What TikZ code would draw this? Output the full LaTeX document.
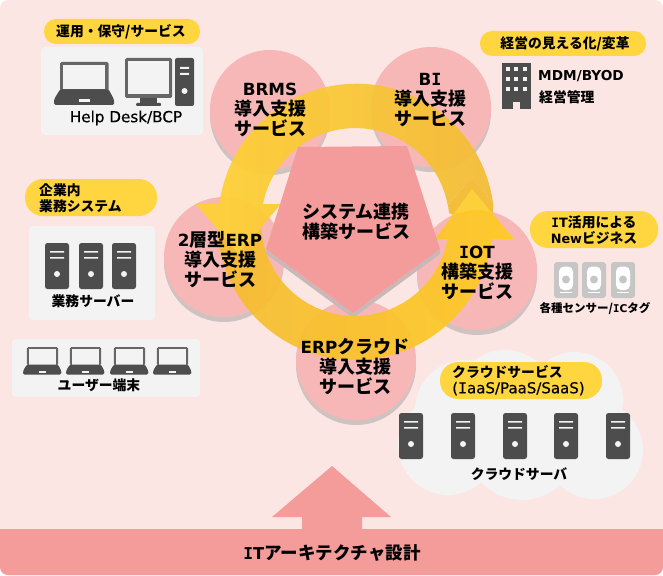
\documentclass[tikz,border=0pt]{standalone}
\usepackage{fontspec}
\setmainfont{Noto Sans CJK JP}
\newfontfamily\latin[Scale=0.93]{DejaVu Sans}
\newfontfamily\latinmed[FakeBold=0.4]{DejaVu Sans}
\newfontfamily\serifI[Scale=0.93]{DejaVu Sans Mono}
\newfontfamily\serifImed[FakeBold=0.4]{DejaVu Sans Mono}
\newcommand{\lt}[1]{{\latin #1}}
% capital I with slab ends
\newcommand{\II}{{\serifI I}}
\definecolor{pagebg}{HTML}{FBE6E4}
\definecolor{bandred}{HTML}{F39C9A}
\definecolor{disc}{HTML}{F7B7B6}
\definecolor{discshade}{HTML}{CFC3C2}
\definecolor{penta}{HTML}{F49B9B}
\definecolor{pentashade}{HTML}{C9B8B8}
\definecolor{notchgold}{HTML}{F2BE3C}
\definecolor{tipgold}{HTML}{FBD03A}
\definecolor{pillgold}{HTML}{FFD63F}
\definecolor{panel}{HTML}{F3F3F3}
\definecolor{icon}{HTML}{4D4D4D}
\definecolor{iconframe}{HTML}{666666}
\definecolor{sensorgrey}{HTML}{C6C6C6}
\definecolor{upperL}{HTML}{FFD233}
\definecolor{upperR}{HTML}{F3BC33}
\definecolor{lowerL}{HTML}{F5BC30}
\definecolor{lowerR}{HTML}{FFCB22}
\tikzset{
  discbody/.style={circle,fill=disc,minimum size=120pt,inner sep=0pt},
  discdrop/.style={circle,fill=discshade,minimum size=120pt,inner sep=0pt},
  disclabel/.style={align=center,inner sep=0pt,font=\fontsize{18}{20}\selectfont\bfseries},
  pill/.style={rounded corners=#1,fill=pillgold},
  pill/.default=12pt,
  panelbox/.style={rounded corners=4pt,fill=panel},
  tagtext/.style={inner sep=0pt,font=\fontsize{13.8}{15.5}\selectfont\bfseries},
  serverico/.pic={
    \fill[icon,rounded corners=2.5pt] (0,0) rectangle (24,46);
    \fill[panel] (5,8) rectangle (19,9.6) (5,14) rectangle (19,15.6);
    \fill[panel] (12,31) circle[radius=3];
  },
  laptopico/.pic={
    \fill[iconframe,rounded corners=1.5pt] (6,0) rectangle (54.7,29);
    \fill[panel] (9.3,3.3) rectangle (51.3,27.4);
    \fill[icon,rounded corners=1.5pt] (6,27.4) -- (54.7,27.4) -- (60,37.5) -- (60,43) -- (0,43) -- (0,37.5) -- cycle;
    \fill[panel] (24.5,37.5) rectangle (36,40);
  },
  sensorico/.pic={
    \fill[sensorgrey,rounded corners=3pt] (0,0) rectangle (24,36);
    \fill[white,rounded corners=5pt] (5,4.5) rectangle (19,28);
    \fill[sensorgrey] (12,17.5) circle[radius=4];
    \fill[white] (5.5,29.5) rectangle (17.5,31);
  }
}
\begin{document}
\begin{tikzpicture}[x=1pt,y=-1pt]
\useasboundingbox (0,0) rectangle (663,575);
% page ground and the foundation band
\fill[pagebg,rounded corners=8pt] (0,0) rectangle (663,575);
\fill[bandred,rounded corners=8pt] (0,529) -- (0,575) -- (663,575) -- (663,529) -- cycle;
\fill[bandred] (0,529) rectangle (663,545);
\fill[bandred] (332,466) -- (391,517) -- (362,517) -- (362,530) -- (302,530) -- (302,517) -- (272,517) -- cycle;
\node[font=\fontsize{17.5}{19}\selectfont\bfseries,inner sep=0pt] (bandtext) at (332,553) {\lt{\II T}アーキテクチャ設計};

% cloud behind the hosted servers
\fill[panel] (448,445) circle[radius=50] (522,445) circle[radius=55] (594,450) circle[radius=49]
  (465,410) circle[radius=50] (505,400) circle[radius=50] (575,400) circle[radius=48];
\fill[panel] (440,400) rectangle (600,470);

% service discs
\foreach \n/\cx/\cy in {a/270/110,b/431/107,c/224/257,d/477/270,e/356/360}{
  \node[discdrop] (shade\n) at (\cx,\cy+5) {};
  \node[discbody] (disc\n) at (\cx,\cy) {};
}

% pentagon drop shade, then the circulating ring, then the pentagon
\fill[pentashade] (266,254) -- (353,318) -- (440,254) -- (440,249) -- (353,313) -- (266,249) -- cycle;
% upper arrow, running over the top to the left-hand side
\shade[left color=upperL,right color=upperR,fill opacity=0.92] (493,203) arc[start angle=-7.8,end angle=-172.5,radius=138]
  -- (196,204) -- (238.5,254) -- (281,204) -- (263,204)
  arc[start angle=-168.9,end angle=-10.4,radius=94] -- (472,178) -- cycle;
% lower arrow, running under the bottom to the right-hand side
\fill[notchgold] (448,205) -- (472,178) -- (493,203) -- (493,212) -- (453,215) -- (449,213) -- cycle;
\shade[left color=lowerL,right color=lowerR,fill opacity=0.92] (217.3,230.9) arc[start angle=176.3,end angle=7,radius=138]
  -- (514,239) -- (472,189) -- (435,239) -- (447.5,239)
  arc[start angle=10.4,end angle=176.3,radius=94] -- (238.5,254) -- cycle;
\fill[tipgold] (472,189) -- (491,212) arc[start angle=-76.4,end angle=-113.6,radius=60] -- cycle;
\fill[penta] (298,147) -- (407,146) -- (440,249) -- (353,313) -- (266,249) -- cycle;

% disc and pentagon captions
\node[disclabel] (brms) at (270,109.5) {\lt{BRMS}\\導入支援\\サービス};
\node[disclabel] (bi) at (430,100) {\lt{B\II}\\導入支援\\サービス};
\node[disclabel] (erp2) at (220,260) {\lt{2}層型\lt{ERP}\\導入支援\\サービス};
\node[disclabel] (iot) at (477,273) {\lt{\II OT}\\構築支援\\サービス};
\node[disclabel] (erpc) at (355,367) {\lt{ERP}クラウド\\導入支援\\サービス};
\node[disclabel] (link) at (356,222) {システム連携\\構築サービス};

% operations group
\fill[pill] (44,19) rectangle (200,44);
\node[tagtext] (opstag) at (121,32) {運用・保守/サービス};
\fill[panelbox] (41,47) rectangle (203,135);
\pic at (54,62) {laptopico};
\fill[iconframe,rounded corners=1.5pt] (125,58) rectangle (172,98);
\fill[panel] (128.3,61.3) rectangle (169,94.3);
\fill[icon] (140,98) rectangle (157,103.5);
\fill[icon,rounded corners=1pt] (136,103) rectangle (161,106);
\fill[icon,rounded corners=2pt] (175,58) rectangle (194,106);
\fill[panel] (180,67) rectangle (189,69) (180,73) rectangle (189,75);
\fill[panel] (184.5,91) circle[radius=3];
\node[inner sep=0pt,font=\fontsize{15.2}{18}\selectfont] (helpdesk) at (126,118) {\latinmed Help Desk/BCP};

% management group
\fill[pill] (480,31) rectangle (646,56);
\node[tagtext] (mgmttag) at (565,44) {経営の見える化/変革};
\fill[icon] (502,63) rectangle (531,109);
\foreach \wx in {506,514.3,523.3}
  \foreach \wy in {66.7,76.7,86.7}
    \fill[panel] (\wx,\wy) rectangle ++(4,4);
\fill[pagebg] (513.3,101.7) rectangle (520,109);
\node[anchor=west,inner sep=0pt,font=\fontsize{14.7}{16}\selectfont\bfseries] (mdm) at (538,76) {\latin MDM/BYOD};
\node[anchor=west,inner sep=0pt,font=\fontsize{13.8}{16}\selectfont\bfseries] (kanri) at (539,97) {経営管理};

% new business group
\fill[pill=18pt] (530,211) rectangle (658,248);
\node[tagtext,align=center] (newbiz) at (594,230) {\lt{\II T}活用による\\\lt{New}ビジネス};
\pic at (554,262) {sensorico};
\pic at (582,262) {sensorico};
\pic at (611,262) {sensorico};
\node[inner sep=0pt,font=\fontsize{11.5}{13}\selectfont\bfseries] (sensors) at (595,308) {各種センサー/\lt{\II C}タグ};

% in-house systems group
\fill[pill=18pt] (25,179) rectangle (157,216);
\node[tagtext,align=left,anchor=west] (intag) at (39,198) {企業内\\業務システム};
\fill[panelbox] (29,226) rectangle (155,320);
\pic at (45,243) {serverico};
\pic at (79,243) {serverico};
\pic at (112,243) {serverico};
\node[tagtext] (gyomu) at (93,301) {業務サーバー};
\fill[panelbox] (12,339) rectangle (200,397);
\foreach \lx in {23,66,110,153}
  \pic[scale=0.64] at (\lx,347) {laptopico};
\node[tagtext] (users) at (99,385) {ユーザー端末};

% hosted services group
\fill[pill=18pt] (440,362) rectangle (602,399);
\node[tagtext,align=left,anchor=west] (cloudtag) at (452,380.5) {クラウドサービス\\{\fontsize{15}{15.5}\selectfont\mdseries\latinmed (\serifImed I\latinmed aaS/PaaS/SaaS)}};
\foreach \sx in {399,451,503,554,606}
  \pic at (\sx,413) {serverico};
\node[tagtext] (cloudsrv) at (519,474) {クラウドサーバ};
\end{tikzpicture}
\end{document}
